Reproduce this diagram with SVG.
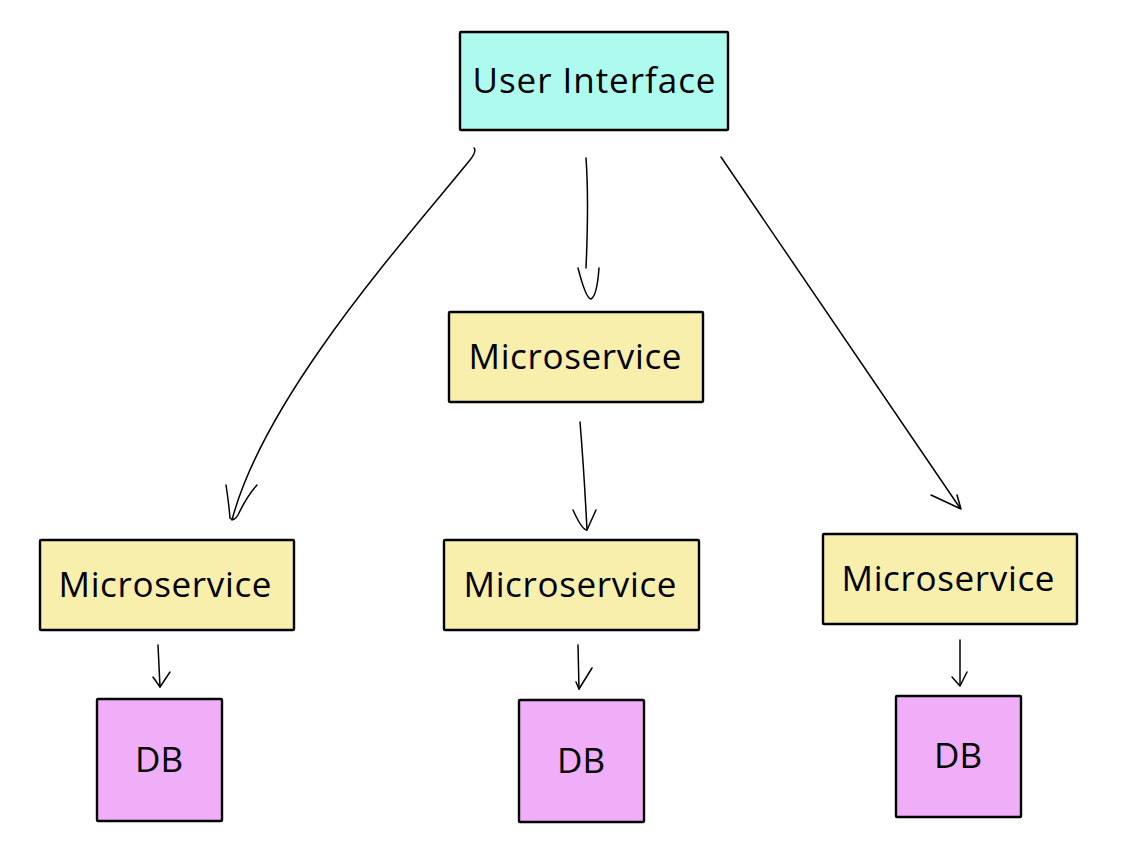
<svg xmlns="http://www.w3.org/2000/svg" width="1127" height="861" viewBox="0 0 1127 861">
<style>
.box{stroke:#000;stroke-width:2.4;}
.ui{fill:#adfaee;}
.ms{fill:#f8efad;}
.db{fill:#f0aef8;}
.lbl{font-family:"Open Sans","Noto Sans",sans-serif;font-size:35px;fill:#000;text-anchor:middle;}
.c{fill:none;stroke:#000;stroke-width:1.5;stroke-linecap:round;stroke-linejoin:round;}
</style>
<rect width="1127" height="861" fill="#fff"/>
<g id="ui"><rect class="box ui" x="460" y="32" width="268" height="98" rx="1"/><text class="lbl" x="594" y="93" textLength="243" lengthAdjust="spacing">User Interface</text></g>
<g id="ms-mid-top"><rect class="box ms" x="449" y="312" width="254" height="90" rx="1"/><text class="lbl" x="575" y="369" textLength="213" lengthAdjust="spacing">Microservice</text></g>
<g id="ms-left"><rect class="box ms" x="40" y="540" width="254" height="90" rx="1"/><text class="lbl" x="165" y="597" textLength="213" lengthAdjust="spacing">Microservice</text></g>
<g id="ms-mid"><rect class="box ms" x="444" y="540" width="255" height="90" rx="1"/><text class="lbl" x="570" y="597" textLength="213" lengthAdjust="spacing">Microservice</text></g>
<g id="ms-right"><rect class="box ms" x="823" y="534" width="254" height="90" rx="1"/><text class="lbl" x="948" y="591" textLength="213" lengthAdjust="spacing">Microservice</text></g>
<g id="db-left"><rect class="box db" x="97" y="699" width="125" height="122" rx="1"/><text class="lbl" x="159" y="772">DB</text></g>
<g id="db-mid"><rect class="box db" x="519" y="700" width="125" height="122" rx="1"/><text class="lbl" x="581" y="773">DB</text></g>
<g id="db-right"><rect class="box db" x="896" y="696" width="125" height="121" rx="1"/><text class="lbl" x="958" y="768">DB</text></g>
<g id="connectors">
<path class="c" d="M474 148 Q477 151 470 160 C405 240 265 395 232 520"/>
<path class="c" d="M226 485 Q229 505 230 518 Q234 522 238 515 Q247 496 257 485"/>
<path class="c" d="M586 158 Q589 200 586 268"/>
<path class="c" d="M578 268 Q586 299 591 299 Q597 296 599 268"/>
<path class="c" d="M721 157 L960 508"/>
<path class="c" d="M931 495 L961 509 L957 495"/>
<path class="c" d="M580 422 Q584 470 587 530"/>
<path class="c" d="M573 510 Q582 530 587 530 L596 510"/>
<path class="c" d="M578 645 L579 689"/>
<path class="c" d="M576 682 L579 689 L592 668"/>
<path class="c" d="M158 645 L160 687"/>
<path class="c" d="M153 677 L160 687 L170 672"/>
<path class="c" d="M960 640 L960 685"/>
<path class="c" d="M952 677 L960 686 L967 672"/>
</g>
</svg>
